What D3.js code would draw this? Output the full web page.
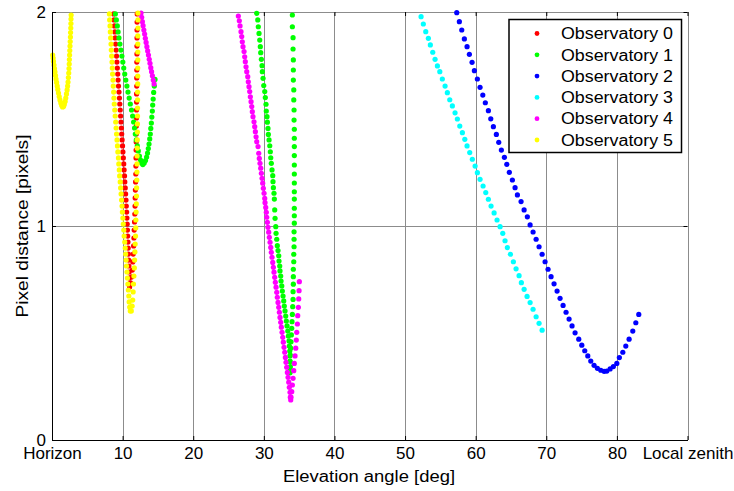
<!DOCTYPE html>
<html>
<head>
<meta charset="utf-8">
<script src="https://cdn.jsdelivr.net/npm/d3@7/dist/d3.min.js"></script>
<style>
  html, body { margin: 0; padding: 0; background: #fff; }
  svg { display: block; }
  text { font-family: "Liberation Sans", Arial, sans-serif; fill: #000; }
</style>
</head>
<body>
<svg id="chart" width="734" height="491"></svg>
<script>
// ---------- DATA ----------
const seriesNames = ["Observatory 0", "Observatory 1", "Observatory 2", "Observatory 3", "Observatory 4", "Observatory 5"];
const seriesColors = ["#ff0000", "#00ff00", "#0000ff", "#00ffff", "#ff00ff", "#ffff00"];

const xTickValues = [0, 10, 20, 30, 40, 50, 60, 70, 80, 90];
const xTickLabels = ["Horizon", "10", "20", "30", "40", "50", "60", "70", "80", "Local zenith"];
const yTickValues = [0, 1, 2];
const yTickLabels = ["0", "1", "2"];

// [elevation angle (deg), pixel distance (pixels)]
const obs0 = [
  [8.73,1.991],[8.78,1.963],[8.84,1.935],[8.90,1.907],[8.95,1.879],[9.01,1.850],[9.08,1.822],[9.14,1.794],
  [9.19,1.766],[9.25,1.738],[9.31,1.710],[9.36,1.682],[9.42,1.654],[9.49,1.626],[9.55,1.598],[9.60,1.570],
  [9.66,1.542],[9.72,1.514],[9.77,1.486],[9.83,1.458],[9.87,1.430],[9.93,1.402],[9.99,1.374],[10.04,1.346],
  [10.10,1.318],[10.16,1.290],[10.21,1.262],[10.27,1.234],[10.31,1.206],[10.37,1.178],[10.42,1.150],[10.48,1.121],
  [10.52,1.093],[10.57,1.065],[10.61,1.037],[10.65,1.009],[10.68,0.981],[10.72,0.953],[10.76,0.925],[10.79,0.897],
  [10.82,0.869],[10.86,0.841],[10.89,0.813],[10.92,0.785],[10.95,0.757],[10.96,0.729],[10.99,0.715],
  [11.13,0.734],[11.27,0.762],[11.37,0.794],[11.44,0.832],[11.50,0.869],[11.56,0.907],[11.60,0.944],[11.64,0.981],
  [11.69,1.019],[11.73,1.056],[11.76,1.093],[11.78,1.131],[11.81,1.168],[11.84,1.206],[11.87,1.243],[11.88,1.280],
  [11.90,1.318],[11.91,1.355],[11.93,1.393],[11.94,1.430],[11.95,1.467],[11.97,1.505],[11.97,1.542],[11.98,1.579],
  [11.98,1.617],[12.00,1.654],[12.00,1.692],[12.01,1.729],[12.01,1.766],[12.03,1.804],[12.03,1.841],[12.04,1.879],
  [12.04,1.916],[12.05,1.953],[12.07,1.991]
];

const obs1 = [
  // pass near 10-15 deg
  [8.97,1.991],[9.11,1.963],[9.25,1.935],[9.36,1.907],[9.48,1.879],[9.62,1.850],[9.76,1.822],[9.90,1.794],
  [10.03,1.766],[10.16,1.738],[10.30,1.710],[10.45,1.682],[10.61,1.654],[10.76,1.626],[10.93,1.598],[11.09,1.570],
  [11.26,1.542],[11.42,1.514],[11.56,1.486],[11.69,1.458],[11.80,1.430],[11.94,1.402],[12.08,1.374],[12.22,1.351],
  [12.38,1.327],[12.54,1.308],[12.69,1.294],[12.86,1.287],[13.06,1.294],[13.24,1.306],[13.40,1.322],[13.53,1.341],
  [13.64,1.362],[13.74,1.383],[13.84,1.407],[13.92,1.430],[13.99,1.456],[14.07,1.481],[14.14,1.509],[14.21,1.537],
  [14.26,1.565],[14.33,1.593],[14.40,1.624],[14.49,1.654],[14.59,1.685],
  // pass near 30-34 deg (descending)
  [28.99,1.994],[29.14,1.963],[29.22,1.931],[29.32,1.900],[29.42,1.869],[29.50,1.838],[29.56,1.810],[29.65,1.779],
  [29.75,1.749],[29.79,1.721],[29.89,1.690],[29.99,1.656],[30.13,1.628],[30.21,1.600],[30.31,1.569],[30.35,1.537],
  [30.45,1.511],[30.50,1.485],[30.59,1.456],[30.64,1.428],[30.74,1.402],[30.84,1.375],[30.92,1.347],[30.98,1.319],
  [31.06,1.293],[31.16,1.262],[31.26,1.235],[31.30,1.207],[31.35,1.179],[31.44,1.153],[31.49,1.126],[31.54,1.075],
  [31.59,1.036],[31.69,0.997],[31.73,0.966],[31.83,0.938],[31.91,0.908],[32.01,0.885],[32.11,0.861],[32.15,0.836],
  [32.25,0.813],[32.29,0.790],[32.39,0.766],[32.44,0.743],[32.54,0.720],[32.62,0.696],[32.72,0.673],[32.82,0.650],
  [32.90,0.626],[33.00,0.603],[33.10,0.579],[33.19,0.556],[33.29,0.533],[33.39,0.509],[33.47,0.486],[33.57,0.463],
  [33.61,0.439],[33.67,0.416],[33.71,0.393],[33.71,0.369],[33.75,0.343],[33.71,0.314],
  // ascending
  [33.71,0.335],[33.71,0.366],[33.75,0.397],[33.81,0.429],[33.85,0.459],[33.90,0.491],[33.95,0.522],[33.99,0.553],
  [34.04,0.587],[34.09,0.623],[34.14,0.657],[34.14,0.693],[34.18,0.728],[34.18,0.763],[34.18,0.798],[34.24,0.833],
  [34.24,0.868],[34.28,0.903],[34.28,0.938],[34.28,0.973],[34.32,1.013],[34.32,1.048],[34.32,1.083],[34.32,1.126],
  [34.32,1.160],[34.32,1.201],[34.32,1.243],[34.32,1.285],[34.32,1.329],[34.32,1.371],[34.32,1.410],[34.32,1.452],
  [34.28,1.495],[34.28,1.542],[34.24,1.589],[34.24,1.636],[34.18,1.682],[34.18,1.729],[34.18,1.776],[34.14,1.827],
  [34.14,1.880],[34.04,1.931],[34.04,1.986]
];

const obs2 = [
  [57.32,1.997],[57.69,1.955],[58.03,1.916],[58.40,1.874],[58.78,1.838],[59.11,1.802],[59.49,1.765],[59.82,1.726],
  [60.24,1.687],[60.62,1.648],[61.01,1.612],[61.37,1.576],[61.80,1.539],[62.14,1.501],[62.51,1.464],[62.93,1.428],
  [63.27,1.391],[63.64,1.355],[64.07,1.321],[64.41,1.288],[64.77,1.251],[65.20,1.215],[65.58,1.179],[65.91,1.145],
  [66.43,1.114],[66.86,1.075],[67.32,1.043],[67.71,1.005],[68.13,0.972],[68.56,0.938],[68.98,0.903],[69.41,0.868],
  [69.83,0.833],[70.25,0.798],[70.68,0.763],[71.10,0.730],[71.53,0.696],[71.95,0.662],[72.38,0.629],[72.80,0.597],
  [73.23,0.565],[73.65,0.533],[74.08,0.501],[74.60,0.471],[75.03,0.443],[75.45,0.417],[75.88,0.393],[76.30,0.369],
  [76.77,0.349],[77.24,0.335],[77.72,0.326],[78.19,0.321],[78.57,0.322],[79.04,0.332],[79.50,0.343],[79.99,0.358],
  [80.35,0.385],[80.84,0.410],[81.26,0.439],[81.73,0.471],[82.25,0.509],[82.68,0.548],[83.10,0.587]
];

const obs3 = [
  [52.27,1.978],[52.59,1.944],[52.93,1.908],[53.30,1.877],[53.58,1.846],[53.92,1.812],[54.25,1.779],[54.58,1.748],
  [54.92,1.721],[55.28,1.687],[55.67,1.654],[55.99,1.623],[56.33,1.590],[56.70,1.561],[57.08,1.529],[57.41,1.500],
  [57.75,1.467],[58.12,1.436],[58.46,1.405],[58.78,1.374],[59.16,1.343],[59.53,1.312],[59.92,1.280],[60.24,1.249],
  [60.62,1.218],[61.05,1.187],[61.43,1.156],[61.80,1.125],[62.18,1.093],[62.61,1.061],[63.03,1.028],[63.46,0.997],
  [63.84,0.966],[64.16,0.931],[64.49,0.899],[64.92,0.868],[65.34,0.833],[65.72,0.800],[66.15,0.768],[66.47,0.735],
  [66.86,0.704],[67.28,0.671],[67.71,0.642],[68.13,0.611],[68.56,0.576],[68.98,0.545],[69.41,0.513]
];

const obs4 = [
  // pass near 13 deg
  [12.61,1.995],[12.70,1.975],[12.80,1.955],[12.90,1.936],[13.01,1.916],[13.12,1.897],[13.22,1.877],[13.33,1.858],
  [13.44,1.838],[13.55,1.818],[13.66,1.799],[13.77,1.779],[13.88,1.760],[13.99,1.740],[14.10,1.721],[14.22,1.702],
  [14.34,1.682],[14.46,1.664],
  // pass near 26-35 deg
  [26.39,1.981],[26.53,1.959],[26.63,1.935],[26.77,1.908],[26.87,1.885],[26.95,1.861],[27.05,1.838],[27.20,1.815],
  [27.29,1.791],[27.38,1.768],[27.48,1.744],[27.58,1.721],[27.72,1.698],[27.80,1.674],[27.90,1.651],[28.00,1.628],
  [28.09,1.604],[28.19,1.581],[28.29,1.558],[28.37,1.534],[28.47,1.511],[28.61,1.487],[28.71,1.464],[28.80,1.441],
  [28.90,1.417],[28.99,1.394],[29.18,1.371],[29.28,1.340],[29.36,1.316],[29.46,1.293],[29.56,1.270],[29.65,1.246],
  [29.75,1.223],[29.84,1.200],[29.93,1.176],[30.03,1.153],[30.13,1.129],[30.17,1.109],[30.27,1.087],[30.35,1.064],
  [30.41,1.041],[30.50,1.017],[30.59,0.994],[30.69,0.971],[30.78,0.947],[30.88,0.924],[30.98,0.900],[31.06,0.877],
  [31.16,0.854],[31.26,0.830],[31.35,0.807],[31.44,0.784],[31.54,0.760],[31.63,0.737],[31.73,0.714],[31.83,0.690],
  [31.91,0.667],[32.01,0.643],[32.11,0.620],[32.20,0.597],[32.29,0.573],[32.39,0.550],[32.48,0.527],[32.58,0.503],
  [32.68,0.480],[32.76,0.457],[32.86,0.433],[32.96,0.410],[33.05,0.386],[33.14,0.363],[33.24,0.340],[33.33,0.316],
  [33.43,0.293],[33.53,0.270],[33.61,0.246],[33.71,0.223],[33.75,0.200],[33.81,0.187],
  [33.85,0.200],[33.95,0.226],[34.04,0.257],[34.14,0.288],[34.24,0.324],[34.32,0.358],[34.42,0.393],[34.52,0.429],
  [34.60,0.467],[34.66,0.503],[34.75,0.542],[34.80,0.581],[34.89,0.620],[34.94,0.659],[34.99,0.698],[35.03,0.740]
];

const obs5 = [
  // pass near the horizon
  [0.10,1.799],[0.16,1.785],[0.21,1.769],[0.28,1.752],[0.35,1.736],[0.42,1.720],[0.50,1.703],[0.57,1.687],
  [0.65,1.671],[0.74,1.654],[0.82,1.638],[0.92,1.621],[1.02,1.605],[1.13,1.589],[1.25,1.575],[1.37,1.563],
  [1.50,1.556],[1.63,1.558],[1.74,1.568],[1.86,1.582],[1.95,1.598],[2.05,1.617],[2.14,1.636],[2.21,1.654],
  [2.27,1.673],[2.32,1.694],[2.37,1.715],[2.41,1.736],[2.44,1.757],[2.46,1.778],[2.49,1.799],[2.52,1.820],
  [2.55,1.841],[2.58,1.862],[2.61,1.883],[2.63,1.904],[2.66,1.925],[2.68,1.946],[2.69,1.967],[2.71,1.986],
  // pass near 8-12 deg
  [8.13,1.991],[8.17,1.963],[8.22,1.935],[8.26,1.907],[8.31,1.879],[8.36,1.850],[8.40,1.822],[8.45,1.794],
  [8.50,1.766],[8.54,1.738],[8.58,1.710],[8.64,1.682],[8.68,1.654],[8.73,1.626],[8.77,1.598],[8.82,1.570],
  [8.89,1.542],[8.95,1.514],[9.02,1.486],[9.08,1.458],[9.14,1.430],[9.21,1.402],[9.27,1.374],[9.33,1.346],
  [9.41,1.318],[9.46,1.290],[9.53,1.262],[9.58,1.234],[9.66,1.206],[9.72,1.178],[9.79,1.150],[9.85,1.121],
  [9.92,1.093],[9.97,1.065],[10.04,1.037],[10.10,1.009],[10.17,0.981],[10.22,0.953],[10.30,0.925],[10.37,0.897],
  [10.43,0.869],[10.50,0.841],[10.55,0.813],[10.62,0.785],[10.68,0.757],[10.75,0.729],[10.81,0.701],[10.88,0.673],
  [10.93,0.645],[11.00,0.621],[11.09,0.603],[11.23,0.603],[11.35,0.626],[11.43,0.654],[11.49,0.692],[11.54,0.729],
  [11.60,0.766],[11.66,0.804],[11.70,0.841],[11.74,0.879],[11.78,0.916],[11.83,0.953],[11.86,0.991],[11.88,1.028],
  [11.91,1.065],[11.94,1.103],[11.97,1.140],[11.98,1.178],[12.01,1.215],[12.03,1.252],[12.04,1.290],[12.05,1.327],
  [12.07,1.364],[12.08,1.402],[12.10,1.439],[12.10,1.477],[12.11,1.514],[12.11,1.551],[12.12,1.589],[12.12,1.626],
  [12.14,1.664],[12.14,1.701],[12.14,1.738],[12.15,1.776],[12.15,1.813],[12.15,1.850],[12.15,1.888],[12.17,1.925],
  [12.17,1.963],[12.17,1.995]
];

const allSeries = [obs0, obs1, obs2, obs3, obs4, obs5];

// ---------- CHART ----------
const svg = d3.select("#chart");
const mLeft = 52, mRight = 687.5, mTop = 12, mBottom = 440;
const fontFam = "'Liberation Sans', Arial, sans-serif";

const x = d3.scaleLinear().domain([0, 90]).range([mLeft, mRight]);
const y = d3.scaleLinear().domain([0, 2]).range([mBottom, mTop]);

// grid
const grid = svg.append("g");
grid.selectAll("line.vg").data(xTickValues).enter().append("line")
  .attr("x1", d => Math.round(x(d)) + 0.5).attr("x2", d => Math.round(x(d)) + 0.5)
  .attr("y1", mTop).attr("y2", mBottom)
  .attr("stroke", "#8c8c8c").attr("stroke-width", 1);
grid.selectAll("line.hg").data(yTickValues).enter().append("line")
  .attr("x1", mLeft).attr("x2", mRight)
  .attr("y1", d => Math.round(y(d)) + 0.5).attr("y2", d => Math.round(y(d)) + 0.5)
  .attr("stroke", "#8c8c8c").attr("stroke-width", 1);

// data points
const dots = svg.append("g");
allSeries.forEach((s, i) => {
  dots.append("g").selectAll("circle").data(s).enter().append("circle")
    .attr("cx", d => x(d[0]))
    .attr("cy", d => y(d[1]))
    .attr("r", 2.6)
    .attr("fill", seriesColors[i]);
});

// axes (left and bottom) with inward ticks
const xAxis = d3.axisBottom(x).tickValues(xTickValues)
  .tickFormat((d, i) => xTickLabels[i]).tickSizeInner(-4).tickSizeOuter(0).tickPadding(7);
const gx = svg.append("g").attr("transform", `translate(0,${mBottom})`).call(xAxis);
gx.select(".domain").attr("stroke", "#000");
gx.selectAll(".tick line").attr("stroke", "#000");
gx.selectAll(".tick text").attr("font-size", 17).attr("font-family", fontFam).attr("fill", "#000");

const yAxis = d3.axisLeft(y).tickValues(yTickValues)
  .tickFormat((d, i) => yTickLabels[i]).tickSizeInner(-4).tickSizeOuter(0).tickPadding(6);
const gy = svg.append("g").attr("transform", `translate(${mLeft},0)`).call(yAxis);
gy.select(".domain").attr("stroke", "#000");
gy.selectAll(".tick line").attr("stroke", "#000");
gy.selectAll(".tick text").attr("font-size", 17).attr("font-family", fontFam).attr("fill", "#000");

// top and right tick marks
const xAxisTop = d3.axisTop(x).tickValues(xTickValues).tickFormat("").tickSizeInner(-4).tickSizeOuter(0);
const gxt = svg.append("g").attr("transform", `translate(0,${mTop})`).call(xAxisTop);
gxt.select(".domain").remove();
gxt.selectAll(".tick line").attr("stroke", "#000");
const yAxisRight = d3.axisRight(y).tickValues(yTickValues).tickFormat("").tickSizeInner(-4).tickSizeOuter(0);
const gyr = svg.append("g").attr("transform", `translate(${mRight},0)`).call(yAxisRight);
gyr.select(".domain").remove();
gyr.selectAll(".tick line").attr("stroke", "#000");

// axis titles
svg.append("text")
  .attr("x", 369).attr("y", 482)
  .attr("text-anchor", "middle").attr("font-size", 16)
  .attr("textLength", 172).attr("lengthAdjust", "spacingAndGlyphs")
  .text("Elevation angle [deg]");
svg.append("text")
  .attr("transform", `translate(28,${(mTop + mBottom) / 2}) rotate(-90)`)
  .attr("text-anchor", "middle").attr("font-size", 16)
  .attr("textLength", 183).attr("lengthAdjust", "spacingAndGlyphs")
  .text("Pixel distance [pixels]");

// legend
const lg = svg.append("g");
lg.append("rect").attr("x", 509).attr("y", 19.5).attr("width", 172.5).attr("height", 133)
  .attr("fill", "#fff").attr("stroke", "#000").attr("stroke-width", 1.5);
seriesNames.forEach((name, i) => {
  const cy = 33.5 + i * 21.3;
  lg.append("circle").attr("cx", 537).attr("cy", cy).attr("r", 2.4).attr("fill", seriesColors[i]);
  lg.append("text").attr("x", 561).attr("y", cy).attr("dy", "0.36em")
    .attr("font-size", 16).attr("textLength", 112).attr("lengthAdjust", "spacingAndGlyphs")
    .text(name);
});
</script>
</body>
</html>
